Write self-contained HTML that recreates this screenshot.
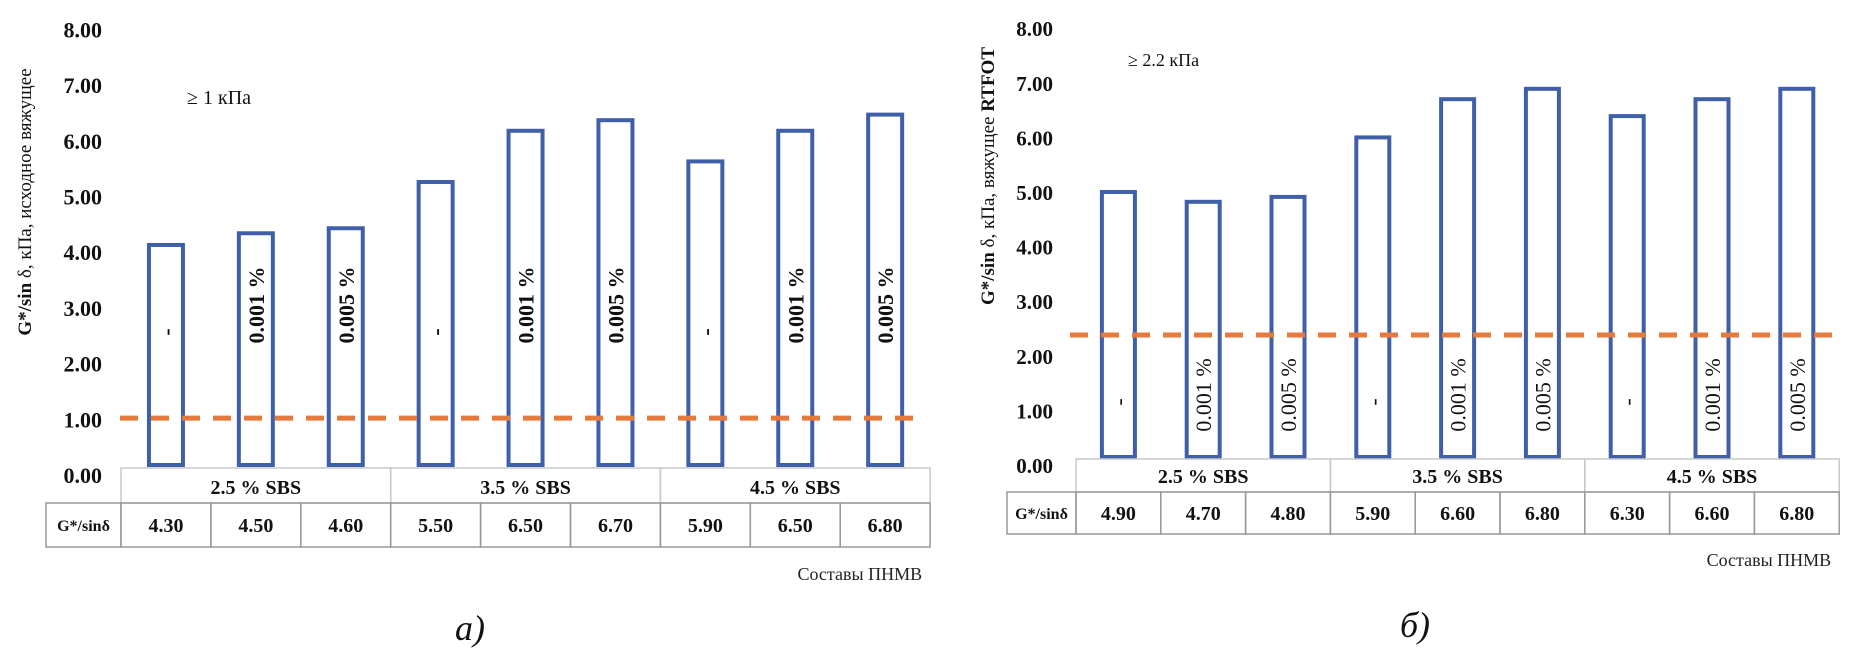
<!DOCTYPE html>
<html><head><meta charset="utf-8"><style>
html,body{margin:0;padding:0;background:#fff;}
svg{display:block;font-family:"Liberation Serif","DejaVu Serif",serif;}
</style></head><body>
<svg id="chart" width="1855" height="659" viewBox="0 0 1855 659" xmlns="http://www.w3.org/2000/svg"></svg>
<script>
const groups = ["2.5 % SBS","3.5 % SBS","4.5 % SBS"];
const barLabels = ["-","0.001 %","0.005 %","-","0.001 %","0.005 %","-","0.001 %","0.005 %"];
const tickLabels = ["0.00","1.00","2.00","3.00","4.00","5.00","6.00","7.00","8.00"];
const valuesA = [4.13,4.34,4.43,5.26,6.18,6.37,5.63,6.18,6.47];
const valuesB = [5.00,4.82,4.91,6.00,6.70,6.89,6.39,6.70,6.89];
const tableA = ["4.30","4.50","4.60","5.50","6.50","6.70","5.90","6.50","6.80"];
const tableB = ["4.90","4.70","4.80","5.90","6.60","6.80","6.30","6.60","6.80"];
const thresholdA = 1.02;
const thresholdB = 2.38;

const svg = document.getElementById('chart');
const NS = 'http://www.w3.org/2000/svg';
function mk(tag, attrs, text){
  const e = document.createElementNS(NS, tag);
  for (const k in attrs) e.setAttribute(k, attrs[k]);
  if (text !== undefined) e.textContent = text;
  svg.appendChild(e);
  return e;
}

function drawChart(cfg){
  const y = v => cfg.zeroY - v * cfg.unit;
  const x = i => cfg.colX0 + cfg.colW * (i + 0.5);
  // ticks
  tickLabels.forEach((t, i) => {
    const el = mk('text', {x: cfg.tickX, y: y(i) + 8, 'text-anchor': 'end', 'font-size': cfg.tickFs, 'font-weight': 'bold', fill: '#111'}, t);
    
    
  });
  // axis title
  const at = mk('text', {x: 0, y: 0, transform: `translate(${cfg.titleX},${cfg.titleY}) rotate(-90)`, 'text-anchor': 'middle', 'font-size': 19, fill: '#111'});
  
  
  at.innerHTML = cfg.title;
  // bars
  cfg.values.forEach((v, i) => {
    const top = y(v);
    const r = mk('rect', {x: x(i) - cfg.barW / 2, y: top, width: cfg.barW, height: cfg.barBottom - top, fill: '#fff', stroke: '#3F5FA9', 'stroke-width': 4});
    
    
  });
  // threshold line
  const ln = mk('line', {x1: cfg.dashX1, x2: cfg.dashX2, y1: y(cfg.threshold), y2: y(cfg.threshold), stroke: '#E57A3C', 'stroke-width': 5, 'stroke-dasharray': '18 13'});
  
  
  // bar labels
  barLabels.forEach((t, i) => {
    const cy = t === '-' ? cfg.dashLabelY : cfg.labelY;
    const el = mk('text', {x: 0, y: 0, transform: `translate(${x(i) + 8},${cy}) rotate(-90)`, 'text-anchor': 'middle', 'font-size': 22, 'font-weight': cfg.labelWeight, fill: '#111'}, t);
    
    
  });
  // annotation
  const an = mk('text', {x: cfg.annX, y: cfg.annY, 'font-size': cfg.annFs, fill: '#111'}, cfg.ann);
  
  
  // table
  const t0 = cfg.tableTop, t1 = cfg.tableMid, t2 = cfg.tableBot;
  const right = cfg.colX0 + cfg.colW * 9;
  groups.forEach((g, gi) => {
    const gx = cfg.colX0 + cfg.colW * 3 * gi;
    const r = mk('rect', {x: gx, y: t0, width: cfg.colW * 3, height: t1 - t0, fill: 'none', stroke: '#c8c8c8', 'stroke-width': 1.5});
    
    
    const tx = mk('text', {x: gx + cfg.colW * 1.5, y: t1 - 9, 'text-anchor': 'middle', 'font-size': 20, 'font-weight': 'bold', fill: '#111'}, g);
    
    
  });
  const hc = mk('rect', {x: cfg.tableLeft, y: t1, width: cfg.colX0 - cfg.tableLeft, height: t2 - t1, fill: 'none', stroke: '#999', 'stroke-width': 1.5});
  
  
  const ht = mk('text', {x: (cfg.tableLeft + cfg.colX0) / 2, y: t1 + (t2 - t1) / 2 + 6, 'text-anchor': 'middle', 'font-size': 16, 'font-weight': 'bold', fill: '#111'}, 'G*/sinδ');
  
  
  cfg.table.forEach((t, i) => {
    const c = mk('rect', {x: cfg.colX0 + cfg.colW * i, y: t1, width: cfg.colW, height: t2 - t1, fill: 'none', stroke: '#999', 'stroke-width': 1.5});
    
    
    const tx = mk('text', {x: x(i), y: t1 + (t2 - t1) / 2 + 7, 'text-anchor': 'middle', 'font-size': 20, 'font-weight': 'bold', fill: '#111'}, t);
    
    
  });
  const xt = mk('text', {x: right - 8, y: cfg.xTitleY, 'text-anchor': 'end', 'font-size': 18, fill: '#222'}, 'Составы ПНМВ');
  
  
  const cap = mk('text', {x: cfg.capX, y: cfg.capY, 'text-anchor': 'middle', 'font-size': 36, 'font-style': 'italic', fill: '#111'}, cfg.cap);
  
  
}

drawChart({values: valuesA, table: tableA, threshold: thresholdA, zeroY: 475, unit: 55.7,
  tickX: 102, tickFs: 22, titleX: 31, titleY: 202,
  title: '<tspan font-weight="bold">G*/sin</tspan> δ, кПа, исходное вяжущее',
  colX0: 121, colW: 89.9, barW: 34, barBottom: 465, dashX1: 120, dashX2: 923,
  labelY: 305, dashLabelY: 332, labelWeight: 'bold',
  ann: '≥ 1 кПа', annX: 187, annY: 104, annFs: 20,
  tableTop: 468, tableMid: 503, tableBot: 547, tableLeft: 46, xTitleY: 580,
  cap: 'а)', capX: 470, capY: 640});

drawChart({values: valuesB, table: tableB, threshold: thresholdB, zeroY: 465, unit: 54.6,
  tickX: 1053, tickFs: 21, titleX: 994, titleY: 176,
  title: '<tspan font-weight="bold">G*/sin</tspan> δ, кПа, вяжущее <tspan font-weight="bold">RTFOT</tspan>',
  colX0: 1076, colW: 84.8, barW: 33, barBottom: 457, dashX1: 1070, dashX2: 1843,
  labelY: 395, dashLabelY: 402, labelWeight: 'normal',
  ann: '≥ 2.2 кПа', annX: 1128, annY: 66, annFs: 18,
  tableTop: 459, tableMid: 492, tableBot: 534, tableLeft: 1007, xTitleY: 566,
  cap: 'б)', capX: 1415, capY: 637});
</script>
</body></html>
